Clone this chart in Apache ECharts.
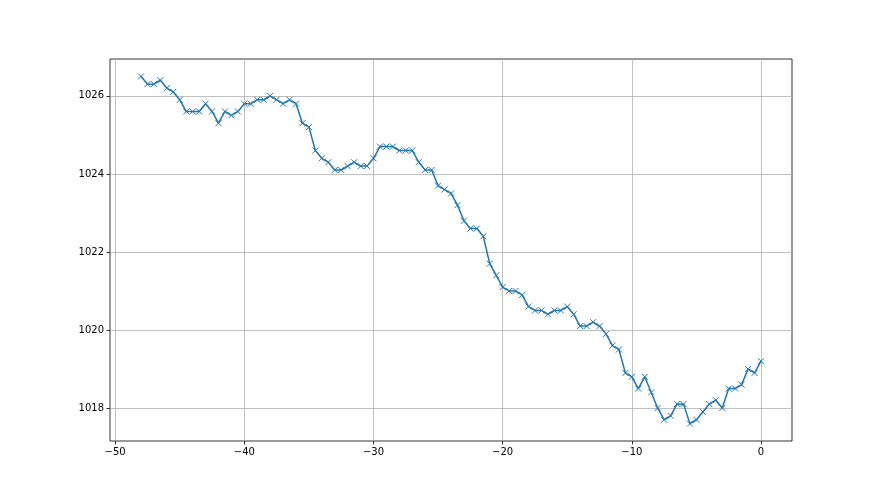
<!DOCTYPE html>
<html>
<head>
<meta charset="utf-8">
<script src="https://cdn.jsdelivr.net/npm/echarts@6/dist/echarts.min.js"></script>
<style>
  html, body { margin: 0; padding: 0; background: #fff; }
  #chart { width: 880px; height: 495px; }
</style>
</head>
<body>
<div id="chart"></div>
<script>
// Data
const xValues = [
  -48, -47.5, -47, -46.5, -46, -45.5, -45, -44.5, -44, -43.5, -43, -42.5, -42, -41.5, -41, -40.5,
  -40, -39.5, -39, -38.5, -38, -37.5, -37, -36.5, -36, -35.5, -35, -34.5, -34, -33.5, -33, -32.5,
  -32, -31.5, -31, -30.5, -30, -29.5, -29, -28.5, -28, -27.5, -27, -26.5, -26, -25.5, -25, -24.5,
  -24, -23.5, -23, -22.5, -22, -21.5, -21, -20.5, -20, -19.5, -19, -18.5, -18, -17.5, -17, -16.5,
  -16, -15.5, -15, -14.5, -14, -13.5, -13, -12.5, -12, -11.5, -11, -10.5, -10, -9.5, -9, -8.5,
  -8, -7.5, -7, -6.5, -6, -5.5, -5, -4.5, -4, -3.5, -3, -2.5, -2, -1.5, -1, -0.5, 0
];
const pressure = [
  1026.5, 1026.3, 1026.3, 1026.4, 1026.2, 1026.1, 1025.9, 1025.6, 1025.6, 1025.6, 1025.8, 1025.6, 1025.3, 1025.6, 1025.5, 1025.6,
  1025.8, 1025.8, 1025.9, 1025.9, 1026.0, 1025.9, 1025.8, 1025.9, 1025.8, 1025.3, 1025.2, 1024.6, 1024.4, 1024.3, 1024.1, 1024.1,
  1024.2, 1024.3, 1024.2, 1024.2, 1024.4, 1024.7, 1024.7, 1024.7, 1024.6, 1024.6, 1024.6, 1024.3, 1024.1, 1024.1, 1023.7, 1023.6,
  1023.5, 1023.2, 1022.8, 1022.6, 1022.6, 1022.4, 1021.7, 1021.4, 1021.1, 1021.0, 1021.0, 1020.9, 1020.6, 1020.5, 1020.5, 1020.4,
  1020.5, 1020.5, 1020.6, 1020.4, 1020.1, 1020.1, 1020.2, 1020.1, 1019.9, 1019.6, 1019.5, 1018.9, 1018.8, 1018.5, 1018.8, 1018.4,
  1018.0, 1017.7, 1017.8, 1018.1, 1018.1, 1017.6, 1017.7, 1017.9, 1018.1, 1018.2, 1018.0, 1018.5, 1018.5, 1018.6, 1019.0, 1018.9, 1019.2
];
const xTicks = [-50, -40, -30, -20, -10, 0];
const yTicks = [1018, 1020, 1022, 1024, 1026];

// matplotlib-style 5% margins
const xMinD = Math.min(...xValues), xMaxD = Math.max(...xValues);
const yMinD = Math.min(...pressure), yMaxD = Math.max(...pressure);
const xPad = (xMaxD - xMinD) * 0.05, yPad = (yMaxD - yMinD) * 0.05;

const seriesData = xValues.map((x, i) => [x, pressure[i]]);

const chart = echarts.init(document.getElementById('chart'), null, { renderer: 'canvas' });
const font = 'DejaVu Sans';
const axisCommon = {
  type: 'value',
  axisLine: { show: false, onZero: false },
  axisTick: { show: true, inside: false, length: 3.5, lineStyle: { color: '#000', width: 0.8 } },
  axisLabel: { color: '#000', fontFamily: font, fontSize: 10 },
  splitLine: { show: true, lineStyle: { color: '#b0b0b0', width: 0.8 } }
};
chart.setOption({
  animation: false,
  backgroundColor: '#fff',
  grid: { left: 110, top: 59, width: 682, height: 382, show: true, borderColor: '#000', borderWidth: 0.8, backgroundColor: 'transparent', containLabel: false },
  xAxis: Object.assign({}, axisCommon, {
    position: 'bottom',
    min: xMinD - xPad, max: xMaxD + xPad,
    axisTick: Object.assign({}, axisCommon.axisTick, { customValues: xTicks }),
    axisLabel: Object.assign({}, axisCommon.axisLabel, { customValues: xTicks, margin: 6,
      formatter: v => (v < 0 ? '\u2212' + Math.abs(v) : String(v)) })
  }),
  yAxis: Object.assign({}, axisCommon, {
    position: 'left',
    min: yMinD - yPad, max: yMaxD + yPad,
    axisTick: Object.assign({}, axisCommon.axisTick, { customValues: yTicks }),
    axisLabel: Object.assign({}, axisCommon.axisLabel, { customValues: yTicks, margin: 6,
      formatter: v => String(v) })
  }),
  series: [{
    type: 'line',
    data: seriesData,
    symbol: 'path://M0,0L10,10M10,0L0,10',
    symbolSize: 6,
    showAllSymbol: true,
    lineStyle: { color: '#1f77b4', width: 1.5 },
    itemStyle: { color: '#1f77b4', borderColor: '#1f77b4', borderWidth: 1 },
    emphasis: { disabled: true }
  }]
});
</script>
</body>
</html>
